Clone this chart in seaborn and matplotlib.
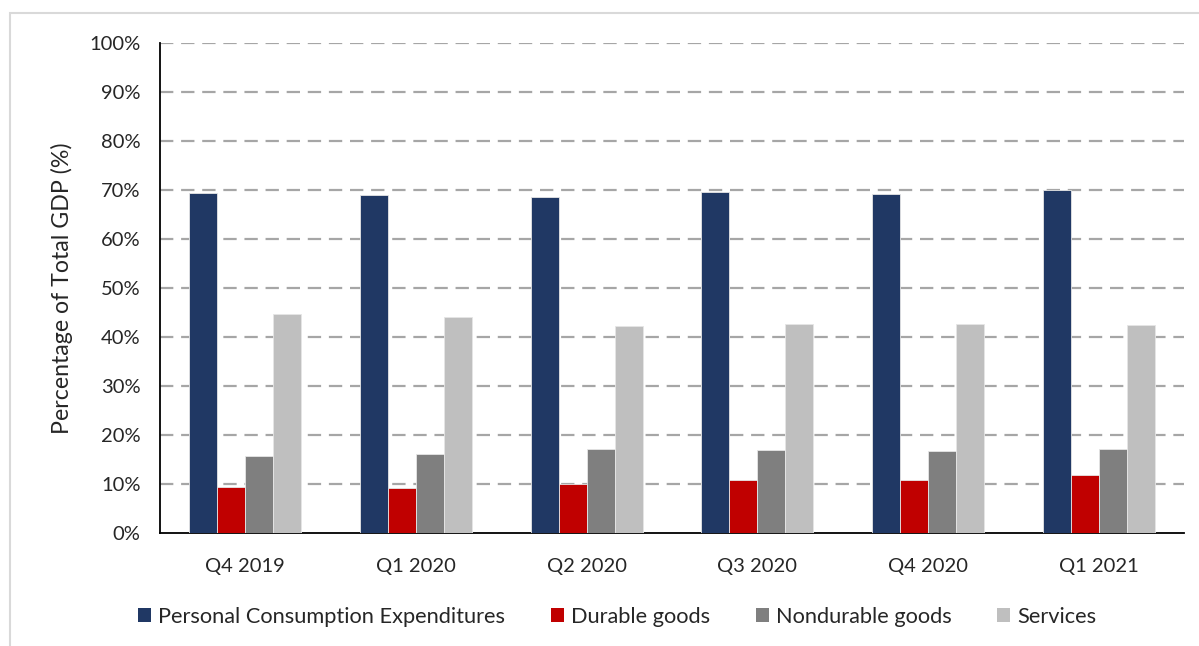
import matplotlib
matplotlib.use("Agg")
import matplotlib.pyplot as plt
from matplotlib.patches import Patch, Rectangle
from matplotlib.ticker import FixedLocator, PercentFormatter
import numpy as np
import pandas as pd
import seaborn as sns

quarters = ["Q4 2019", "Q1 2020", "Q2 2020", "Q3 2020", "Q4 2020", "Q1 2021"]
series_names = ["Personal Consumption Expenditures", "Durable goods",
                "Nondurable goods", "Services"]
pce = [69.3, 69.0, 68.6, 69.6, 69.2, 70.0]
durable = [9.4, 9.2, 10.1, 10.9, 10.8, 11.8]
nondurable = [15.7, 16.1, 17.1, 17.0, 16.7, 17.1]
services = [44.6, 44.1, 42.2, 42.6, 42.6, 42.4]
colors = ["#203864", "#C00000", "#7F7F7F", "#BFBFBF"]

df = pd.DataFrame({
    "Quarter": quarters * 4,
    "Series": np.repeat(series_names, len(quarters)),
    "Value": pce + durable + nondurable + services,
})

sns.set_theme(style="white")
plt.rcParams["font.family"] = ["Lato", "DejaVu Sans"]

fig = plt.figure(figsize=(11.99, 6.46), dpi=100)
ax = fig.add_axes([160 / 1199, 1 - 533 / 646, 1024 / 1199, 490 / 646])

sns.barplot(data=df, x="Quarter", y="Value", hue="Series", order=quarters,
            hue_order=series_names, palette=colors, width=0.656, gap=0,
            edgecolor="#e6e6e6", linewidth=0.6, saturation=1, ax=ax,
            legend=False, zorder=3)

ax.set_ylim(0, 100)
ax.set_xlim(-0.5, len(quarters) - 0.5)
ax.yaxis.set_major_locator(FixedLocator(np.arange(0, 101, 10)))
ax.yaxis.set_major_formatter(PercentFormatter(decimals=0))

# dashed horizontal gridlines
for v in range(10, 101, 10):
    ax.axhline(v, color="#a6a6a6", lw=1.6, ls=(0, (6, 3.5)), zorder=1)

for side in ["top", "right"]:
    ax.spines[side].set_visible(False)
for side in ["left", "bottom"]:
    ax.spines[side].set_color("black")
    ax.spines[side].set_linewidth(1.3)

# category labels centered, tick marks on category boundaries
ax.set_xticks(range(len(quarters)))
ax.set_xticklabels(quarters, fontsize=14.5)
ax.tick_params(axis="x", which="major", length=0, pad=18)
ax.set_xticks(np.arange(-0.5, len(quarters), 1.0), minor=True)
ax.tick_params(axis="x", which="minor", length=7, width=1.3, color="black",
               direction="out")
ax.tick_params(axis="y", length=0, pad=14, labelsize=14.5)

ax.set_xlabel("")
ax.set_ylabel("Percentage of Total GDP (%)", fontsize=16.7, labelpad=12)

handles = [Patch(facecolor=c, edgecolor="none") for c in colors]
fig.legend(handles, series_names, loc="center", ncol=4,
           bbox_to_anchor=(617 / 1199, 1 - 617 / 646), frameon=False,
           fontsize=15.7, handlelength=0.6, handleheight=0.6,
           handletextpad=0.32, columnspacing=2.1, borderaxespad=0)

# light outer frame
fig.add_artist(Rectangle((10 / 1199, -0.01), 1.1, 1 - 13 / 646 + 0.01,
                         transform=fig.transFigure, fill=False,
                         edgecolor="#d9d9d9", lw=1.5))

fig.savefig("out.png", dpi=100, facecolor="white")
